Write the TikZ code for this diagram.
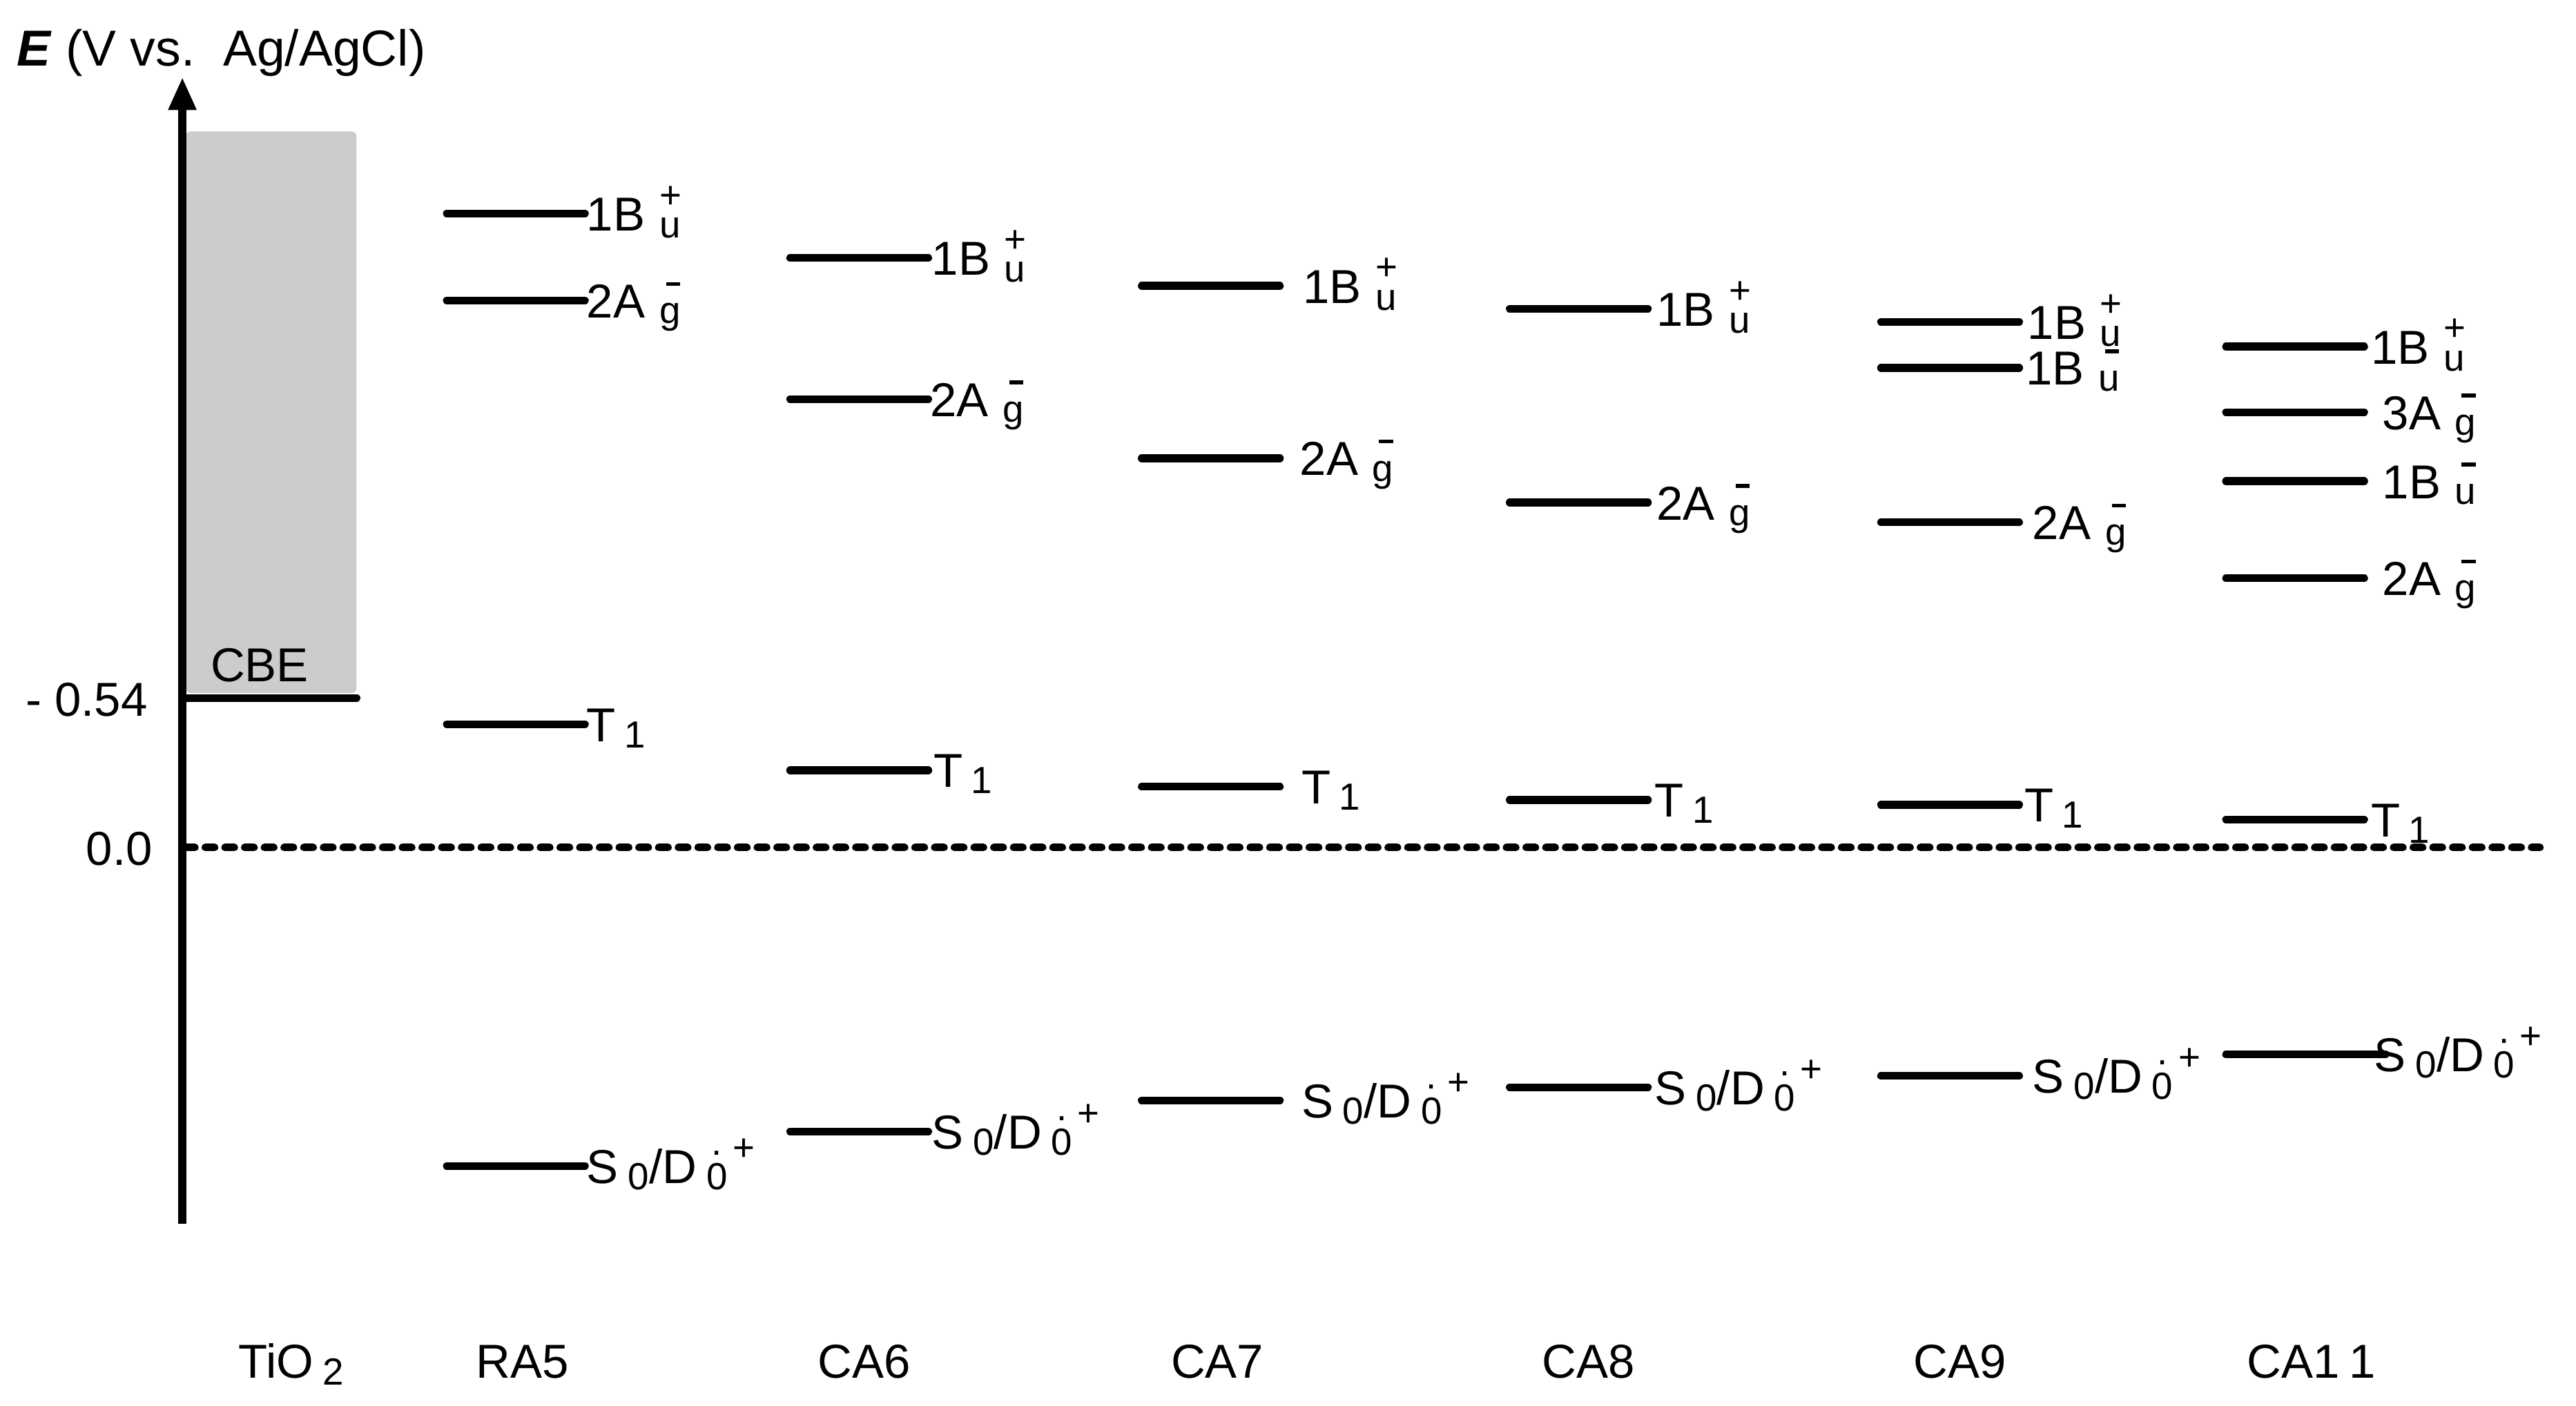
\documentclass[tikz,border=0pt]{standalone}
\usepackage{fontspec}
\setmainfont{Liberation Sans}
\usetikzlibrary{arrows.meta}
\newcommand\scr{\fontsize{23}{23}\selectfont}
\newcommand\mns{\kern4pt\rule[19.5pt]{8.5pt}{2.3pt}}
\newcommand\stp[3]{#1\hspace{0.3em}\makebox[0pt][l]{\raisebox{-0.15em}{\scr #2}}\raisebox{0.48em}{\scr #3}}
\newcommand\stm[2]{#1\hspace{0.3em}\makebox[0pt][l]{\raisebox{-0.12em}{\scr #2}}\mns}
\newcommand\sd{S\hspace{0.2em}\raisebox{-0.13em}{\scr 0}/D\hspace{0.2em}\raisebox{-0.13em}{\scr 0}\kern-0.33em\raisebox{0.6em}{\scr .}\kern0.22em\raisebox{0.48em}{\scr +}}
\newcommand\tone{T\hspace{0.18em}\raisebox{-0.13em}{\scr 1}}
\tikzset{
  lvl/.style={line width=4.8pt, line cap=round},
  lab/.style={anchor=base west, inner sep=0pt, font=\fontsize{29}{34}\selectfont},
  txt/.style={inner sep=0pt, font=\fontsize{29}{34}\selectfont},
}
% #1 name, #2 x start, #3 y, #4 label x, #5 label
\newcommand\lev[5]{\draw[lvl] (#2,#3) -- ++(84,0); \node[lab] (#1) at (#4,#3+10.5) {#5};}
\begin{document}
\begin{tikzpicture}[x=1pt,y=-1pt]
\useasboundingbox (0,0) rectangle (1568,856);
% band
\fill[gray!40, rounded corners=3pt] (113,80) rectangle (217,422);
\node[txt, anchor=base west] (cbe) at (128,415) {CBE};
\draw[line width=4.8pt, line cap=round] (111,425) -- (217,425);
% dashed zero line
\draw[line width=4.6pt, line cap=round, dash pattern=on 5.6pt off 6.4pt] (113,516) -- (1546,516);
% axis
\draw[line width=4.8pt, -{Triangle[width=16pt,length=20pt]}] (111,745) -- (111,47);
\node[txt, anchor=base west, font=\fontsize{30.8}{36}\selectfont] (title) at (10,40) {\textbf{\textit{E}} (V vs.\ \ Ag/AgCl)};
\node[txt, anchor=base east] (m054) at (90,436) {- 0.54};
\node[txt, anchor=base east] (zero) at (93,527) {0.0};
% RA5
\lev{ra1}{272}{130}{357}{\stp{1B}{u}{+}}
\lev{ra2}{272}{183}{357}{\stm{2A}{g}}
\lev{ra3}{272}{441}{357}{\tone}
\lev{ra4}{272}{710}{357}{\sd}
% CA6
\lev{c61}{481}{157}{567}{\stp{1B}{u}{+}}
\lev{c62}{481}{243}{566}{\stm{2A}{g}}
\lev{c63}{481}{469}{568}{\tone}
\lev{c64}{481}{689}{567}{\sd}
% CA7
\lev{c71}{695}{174}{793}{\stp{1B}{u}{+}}
\lev{c72}{695}{279}{791}{\stm{2A}{g}}
\lev{c73}{695}{479}{792}{\tone}
\lev{c74}{695}{670}{792}{\sd}
% CA8
\lev{c81}{919}{188}{1008}{\stp{1B}{u}{+}}
\lev{c82}{919}{306}{1008}{\stm{2A}{g}}
\lev{c83}{919}{487}{1007}{\tone}
\lev{c84}{919}{662}{1007}{\sd}
% CA9
\lev{c91}{1145}{196}{1234}{\stp{1B}{u}{+}}
\lev{c92}{1145}{224}{1233}{\stm{1B}{u}}
\lev{c93}{1145}{318}{1237}{\stm{2A}{g}}
\lev{c94}{1145}{490}{1232}{\tone}
\lev{c95}{1145}{655}{1237}{\sd}
% CA11
\lev{c11a}{1355}{211}{1443}{\stp{1B}{u}{+}}
\lev{c11b}{1355}{251}{1450}{\stm{3A}{g}}
\lev{c11c}{1355}{293}{1450}{\stm{1B}{u}}
\lev{c11d}{1355}{352}{1450}{\stm{2A}{g}}
\lev{c11e}{1355}{499}{1443}{\tone}
\draw[lvl] (1355,642) -- (1452,642);
\node[lab] (c11f) at (1445,652.5) {\sd};
% bottom labels
\node[txt, anchor=base west] (tio2) at (145,839) {TiO\hspace{0.2em}\raisebox{-0.15em}{\scr 2}};
\node[txt, anchor=base] (ra5) at (318,839) {RA5};
\node[txt, anchor=base] (ca6) at (526,839) {CA6};
\node[txt, anchor=base] (ca7) at (741,839) {CA7};
\node[txt, anchor=base] (ca8) at (967,839) {CA8};
\node[txt, anchor=base] (ca9) at (1193,839) {CA9};
\node[txt, anchor=base] (ca11) at (1407,839) {CA1\hspace{0.2em}1};
\end{tikzpicture}
\end{document}
